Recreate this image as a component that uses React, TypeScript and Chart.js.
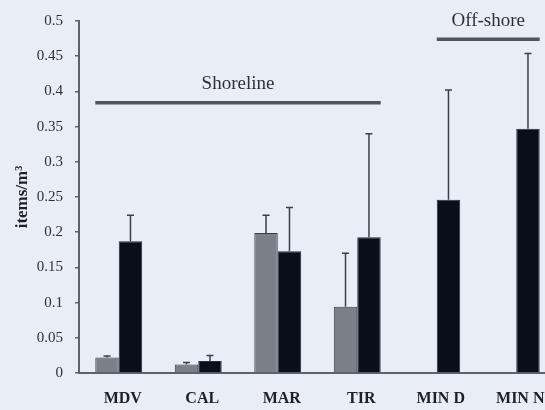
import React, { useEffect, useRef } from "react";
import { Chart, registerables } from "chart.js";

Chart.register(...registerables);

const categories = ["MDV", "CAL", "MAR", "TIR", "MIN D", "MIN N"];
const grayValues = [0.022, 0.012, 0.199, 0.094, null, null];
const grayErrors = [0.002, 0.003, 0.025, 0.076, null, null];
const blackValues = [0.187, 0.017, 0.173, 0.193, 0.246, 0.347];
const blackErrors = [0.037, 0.008, 0.062, 0.147, 0.156, 0.107];
const yTicks = [0, 0.05, 0.1, 0.15, 0.2, 0.25, 0.3, 0.35, 0.4, 0.45, 0.5];

const groupLabels = ["Shoreline", "Off-shore"];
const groupStart = [0, 4]; // category index
const groupStartSeries = [0, 1];
const groupEnd = [3, 5];
const groupLineLevel = [0.384, 0.474];
const groupLabelLevel = [0.411, 0.5];

const BG = "#e9edf6";
const SERIF = "'Liberation Serif', 'Times New Roman', serif";

const errorBarPlugin = {
  id: "errorBars",
  afterDatasetsDraw(chart: any) {
    const ctx = chart.ctx;
    const y = chart.scales.y;
    const errs = [grayErrors, blackErrors];
    ctx.save();
    ctx.strokeStyle = "#3c3f46";
    ctx.lineWidth = 1.5;
    chart.data.datasets.forEach((ds: any, di: number) => {
      const meta = chart.getDatasetMeta(di);
      meta.data.forEach((bar: any, i: number) => {
        const v = ds.data[i];
        const e = errs[di][i];
        if (v == null || e == null) return;
        const x = bar.x;
        const y0 = y.getPixelForValue(v);
        const y1 = y.getPixelForValue(v + e);
        ctx.beginPath();
        ctx.moveTo(x, y0);
        ctx.lineTo(x, y1);
        ctx.moveTo(x - 3.5, y1);
        ctx.lineTo(x + 3.5, y1);
        ctx.stroke();
      });
    });
    ctx.restore();
  },
};

const groupPlugin = {
  id: "groups",
  afterDatasetsDraw(chart: any) {
    const ctx = chart.ctx;
    const y = chart.scales.y;
    ctx.save();
    groupLabels.forEach((label, gi) => {
      const startBar: any = chart.getDatasetMeta(groupStartSeries[gi]).data[groupStart[gi]];
      const endBar: any = chart.getDatasetMeta(1).data[groupEnd[gi]];
      const x0 = startBar.x - startBar.width / 2;
      const x1 = endBar.x + endBar.width / 2;
      const ly = y.getPixelForValue(groupLineLevel[gi]);
      ctx.strokeStyle = "#50545c";
      ctx.lineWidth = 3.5;
      ctx.beginPath();
      ctx.moveTo(x0, ly);
      ctx.lineTo(x1, ly);
      ctx.stroke();
      ctx.fillStyle = "#2e3036";
      ctx.font = `19px ${SERIF}`;
      ctx.textAlign = "center";
      ctx.textBaseline = "middle";
      ctx.fillText(label, (x0 + x1) / 2, y.getPixelForValue(groupLabelLevel[gi]));
    });
    ctx.restore();
  },
};

export default function App() {
  const ref = useRef<HTMLCanvasElement>(null);
  useEffect(() => {
    if (!ref.current) return;
    const chart = new Chart(ref.current, {
      type: "bar",
      data: {
        labels: categories,
        datasets: [
          {
            data: grayValues as any,
            backgroundColor: "#7b7f88",
            borderColor: "#3a3d44",
            borderWidth: 1,
            categoryPercentage: 0.59,
            barPercentage: 1,
          },
          {
            data: blackValues,
            backgroundColor: "#0a0e18",
            borderColor: "#2a2d35",
            borderWidth: 1,
            categoryPercentage: 0.59,
            barPercentage: 1,
          },
        ],
      },
      options: {
        responsive: false,
        animation: false,
        layout: { padding: { top: 20, right: 4, left: 0, bottom: 0 } },
        plugins: { legend: { display: false }, tooltip: { enabled: false } },
        scales: {
          x: {
            afterFit: (s: any) => {
              s.height = 37;
            },
            grid: { display: false, drawTicks: false },
            border: { display: true, color: "#5f626a", width: 2 },
            ticks: {
              padding: 16,
              labelOffset: 4,
              color: "#1e2026",
              font: { family: SERIF, size: 16, weight: "bold" },
              maxRotation: 0,
            },
          },
          y: {
            min: 0,
            max: 0.5,
            afterBuildTicks: (s: any) => {
              s.ticks = yTicks.map((v) => ({ value: v }));
            },
            afterFit: (s: any) => {
              s.width = 79;
            },
            grid: { drawOnChartArea: false, drawTicks: true, tickLength: 4, color: "#5f626a", lineWidth: 1.5 },
            border: { display: true, color: "#5f626a", width: 2 },
            ticks: {
              padding: 12,
              color: "#2e3036",
              font: { family: SERIF, size: 15 },
              callback: (v: any) => String(Number(Number(v).toFixed(2))),
            },
            title: {
              display: true,
              text: "items/m³",
              color: "#1e2026",
              padding: { top: 12, bottom: 0 },
              font: { family: SERIF, size: 17, weight: "bold" },
            },
          },
        },
      },
      plugins: [errorBarPlugin, groupPlugin],
    });
    return () => chart.destroy();
  }, []);
  return (
    <div
      style={{
        position: "fixed",
        left: 0,
        top: 0,
        width: 545,
        height: 410,
        overflow: "hidden",
        background: BG,
      }}
    >
      <canvas ref={ref} width={560} height={410} style={{ display: "block" }} />
    </div>
  );
}
